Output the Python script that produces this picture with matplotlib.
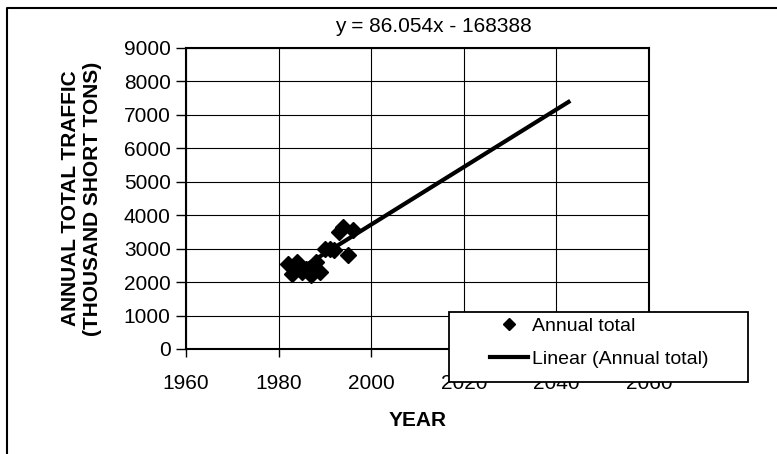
import matplotlib
matplotlib.use("Agg")
import matplotlib.pyplot as plt
from matplotlib.patches import Rectangle
from matplotlib.lines import Line2D
import numpy as np

matplotlib.rcParams.update({'font.size': 15, 'font.family': ['Liberation Sans', 'DejaVu Sans']})

# annual totals (thousand short tons)
years = [1982, 1983, 1984, 1985, 1986, 1987, 1988, 1989, 1990, 1991, 1992, 1993, 1994, 1995, 1996]
traffic = [2550, 2250, 2600, 2300, 2400, 2200, 2600, 2300, 3000, 3000, 2950, 3500, 3650, 2800, 3550]

# linear trendline as printed on the chart, forecast forward
slope = 86.054
intercept = -168388
trend_years = [1982, 2043]
equation = "y = 86.054x - 168388"

x_ticks = [1960, 1980, 2000, 2020, 2040, 2060]
y_ticks = [0, 1000, 2000, 3000, 4000, 5000, 6000, 7000, 8000, 9000]

fig = plt.figure(figsize=(7.77, 4.54), dpi=100)
ax = fig.add_axes([186/777, 1 - 349/454, 463/777, 301/454])

tx = np.array(trend_years, dtype=float)
ax.plot(tx, slope*tx + intercept, color='black', lw=3, solid_capstyle='butt', zorder=3)
ax.plot(years, traffic, ls='none', marker='D', ms=8, color='black', zorder=4)

ax.set_xlim(x_ticks[0], x_ticks[-1])
ax.set_ylim(y_ticks[0], y_ticks[-1])
ax.set_xticks(x_ticks)
ax.set_yticks(y_ticks)
ax.grid(True, color='black', lw=0.8)
ax.set_axisbelow(True)
for s in ax.spines.values():
    s.set_linewidth(1.5)
ax.tick_params(axis='x', direction='out', length=6, width=1, pad=12)
ax.tick_params(axis='y', direction='out', length=7, width=1, pad=4)

ax.set_xlabel("YEAR", fontsize=15, fontweight='bold')
ax.xaxis.set_label_coords(0.5, -0.205)
fig.text(81.5/777, 1 - 198.5/454, "ANNUAL TOTAL TRAFFIC\n(THOUSAND SHORT TONS)",
         rotation=90, ha='center', va='center', fontsize=15, fontweight='bold',
         multialignment='center', linespacing=1.25)

fig.text(433/777, 1 - 27/454, equation, ha='center', va='center', fontsize=15)

# legend box sits over the plot and the x tick labels
box = Rectangle((449/777, 1 - 382/454), 299/777, 70/454, transform=fig.transFigure,
                facecolor='white', edgecolor='black', lw=1.3, zorder=4)
fig.add_artist(box)
handles = [Line2D([], [], ls='none', marker='D', ms=6, color='black'),
           Line2D([], [], color='black', lw=3)]
fig.legend(handles, ["Annual total", "Linear (Annual total)"], loc='upper left',
           bbox_to_anchor=(490/777, 1 - 317/454), frameon=False, borderpad=0,
           borderaxespad=0, handlelength=1.95, handletextpad=0.2, labelspacing=0.8,
           fontsize=14).set_zorder(5)

# page border from the scan
fig.add_artist(Line2D([7/777, 7/777, 1], [0, 1 - 8/454, 1 - 8/454],
                      transform=fig.transFigure, color='black', lw=1.5))

fig.savefig("out.png", dpi=100)
